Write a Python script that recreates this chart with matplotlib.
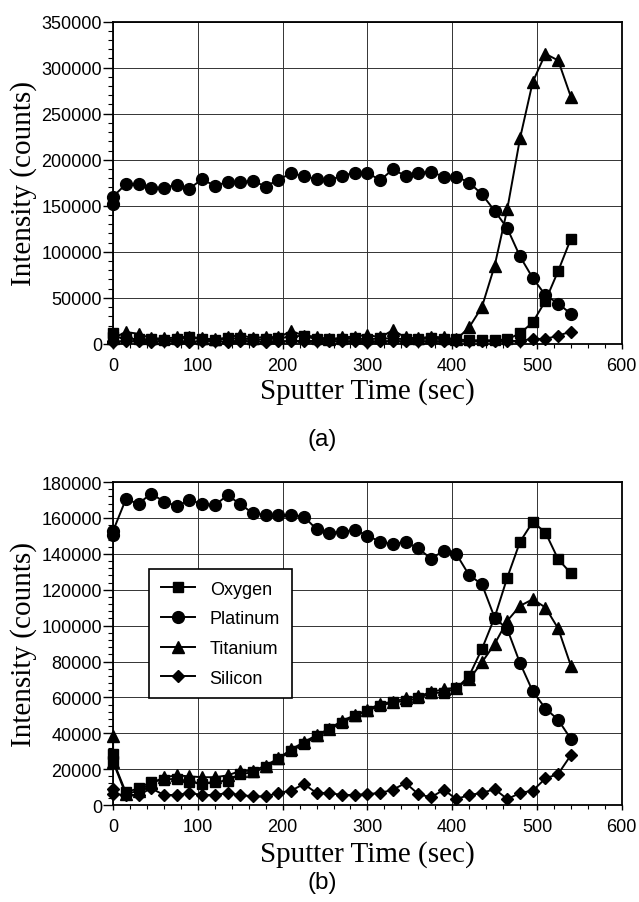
import matplotlib
matplotlib.use('Agg')
import matplotlib.pyplot as plt
from matplotlib.ticker import MultipleLocator

# sputter time (sec), two readings at t = 0
times = [0, 0, 15, 30, 45, 60, 75, 90, 105, 120, 135, 150, 165, 180, 195,
         210, 225, 240, 255, 270, 285, 300, 315, 330, 345, 360, 375, 390,
         405, 420, 435, 450, 465, 480, 495, 510, 525, 540]

# (a)
oxy_a = [12000, 8000, 6000, 5000, 5000, 4000, 5000, 7000, 5000, 4000, 6000,
         6000, 5000, 5000, 6000, 8000, 9000, 5000, 5000, 5000, 6000, 5000,
         6000, 6000, 5000, 5000, 6000, 5000, 5000, 4000, 4000, 4000, 5000,
         11500, 23400, 46800, 79200, 114100]
plat_a = [152000, 160000, 173400, 174100, 169800, 169800, 172700, 168700,
          178800, 171600, 175900, 175900, 177000, 170900, 178400, 185200,
          182400, 178800, 178000, 182400, 186000, 186000, 177700, 189600,
          182400, 186000, 186700, 181700, 181700, 175200, 162600, 144600,
          125500, 95000, 71600, 52900, 43900, 32700]
tita_a = [8000, 6000, 13000, 11000, 6000, 6000, 7000, 8000, 6000, 5000, 7000,
          10000, 6000, 8000, 7000, 14000, 9000, 8000, 5000, 7000, 8000, 10000,
          7000, 15000, 7000, 6000, 8000, 7000, 5000, 18000, 40000, 84600,
          146500, 223200, 284400, 315000, 307800, 268200]
sili_a = [3000, 2500, 3000, 3000, 2500, 3000, 3000, 2500, 3000, 3000, 2500,
          3000, 3000, 2500, 3000, 3000, 3500, 3000, 3000, 3000, 3000, 2500,
          3000, 3000, 3000, 3000, 3000, 3000, 3000, 3000, 3000, 3000, 3000,
          3500, 5400, 5400, 9000, 13400]

# (b)
oxy_b = [28400, 24700, 7100, 9300, 13000, 14100, 14700, 13000, 11700, 13000,
         13500, 17300, 18200, 21000, 25600, 30200, 34000, 38300, 42300, 45700,
         49700, 52500, 55300, 57200, 58100, 59400, 62400, 62700, 65000, 72000,
         86900, 104500, 126800, 146700, 157800, 151900, 137000, 129200]
plat_b = [150400, 152800, 170400, 168000, 173600, 169100, 166700, 169900,
          168000, 167100, 172700, 167700, 162600, 161700, 161700, 161700,
          160800, 153700, 151900, 152200, 153400, 150200, 146700, 145400,
          146700, 143000, 137400, 141600, 139800, 128100, 123100, 104500,
          98000, 79100, 63400, 53800, 47500, 36800]
tita_b = [38600, 24000, 6000, 8000, 12000, 15500, 16500, 16000, 15500, 15500,
          16500, 19000, 19000, 22000, 26000, 31000, 35000, 39000, 42500, 47000,
          50000, 53000, 56500, 57500, 59500, 60500, 63000, 64500, 65500, 70000,
          79500, 89700, 102700, 111000, 114700, 110100, 98400, 77600]
sili_b = [8900, 6100, 5600, 5600, 9300, 5600, 5600, 6700, 5600, 5600, 6700,
          5600, 4800, 4800, 6700, 8000, 11700, 6700, 6700, 5600, 5600, 6100,
          6700, 8500, 12300, 6100, 4300, 8500, 3300, 5600, 6700, 8900, 3300,
          6700, 8000, 14800, 17300, 27800]

names = ['Oxygen', 'Platinum', 'Titanium', 'Silicon']
markers = ['s', 'o', '^', 'D']
msizes = [7.5, 8.5, 8, 6]

plt.rcParams['font.family'] = ['Liberation Sans', 'DejaVu Sans']
tick_fs = 13
label_font = dict(family='Liberation Serif', size=21)

fig = plt.figure(figsize=(6.39, 9.03), dpi=100)
ax_a = fig.add_axes([0.177, 0.618, 0.796, 0.357])
ax_b = fig.add_axes([0.177, 0.1074, 0.796, 0.3576])


def draw(ax, series, ymax, ystep, yminor):
    for vals, name, m, s in zip(series, names, markers, msizes):
        ax.plot(times, vals, color='black', lw=1.4, marker=m, ms=s,
                label=name, clip_on=False, zorder=3)
    ax.set_xlim(0, 600)
    ax.set_ylim(0, ymax)
    ax.xaxis.set_major_locator(MultipleLocator(100))
    ax.xaxis.set_minor_locator(MultipleLocator(20))
    ax.yaxis.set_major_locator(MultipleLocator(ystep))
    ax.yaxis.set_minor_locator(MultipleLocator(yminor))
    ax.grid(True, which='major', color='0.2', lw=0.7)
    ax.tick_params(axis='y', which='major', direction='out', length=7,
                   width=1, pad=1, labelsize=tick_fs)
    ax.tick_params(axis='y', which='minor', direction='out', length=3.5,
                   width=0.8)
    ax.tick_params(axis='x', which='major', direction='out', length=3.5,
                   width=1, pad=6, labelsize=tick_fs)
    ax.tick_params(axis='x', which='minor', direction='out', length=3,
                   width=0.8)
    for sp in ax.spines.values():
        sp.set_linewidth(1.3)
    ax.set_xlabel('Sputter Time (sec)', fontdict=label_font)
    ax.set_ylabel('Intensity (counts)', fontdict=label_font)
    ax.yaxis.set_label_coords(-0.15, 0.5)


draw(ax_a, [oxy_a, plat_a, tita_a, sili_a], 350000, 50000, 10000)
ax_a.xaxis.set_label_coords(0.5, -0.102)

draw(ax_b, [oxy_b, plat_b, tita_b, sili_b], 180000, 20000, 4000)
ax_b.xaxis.set_label_coords(0.5, -0.108)

leg = ax_b.legend(loc='upper left', bbox_to_anchor=(0.071, 0.731),
                  borderaxespad=0, fontsize=13, handlelength=1.9,
                  labelspacing=0.7, borderpad=0.65, handletextpad=0.8,
                  fancybox=False, framealpha=1, edgecolor='black')
leg.get_frame().set_linewidth(1.2)

fig.text(0.504, 0.513, '(a)', ha='center', va='center', fontsize=17.5)
fig.text(0.504, 0.022, '(b)', ha='center', va='center', fontsize=17.5)

plt.savefig('out.png', dpi=100)
